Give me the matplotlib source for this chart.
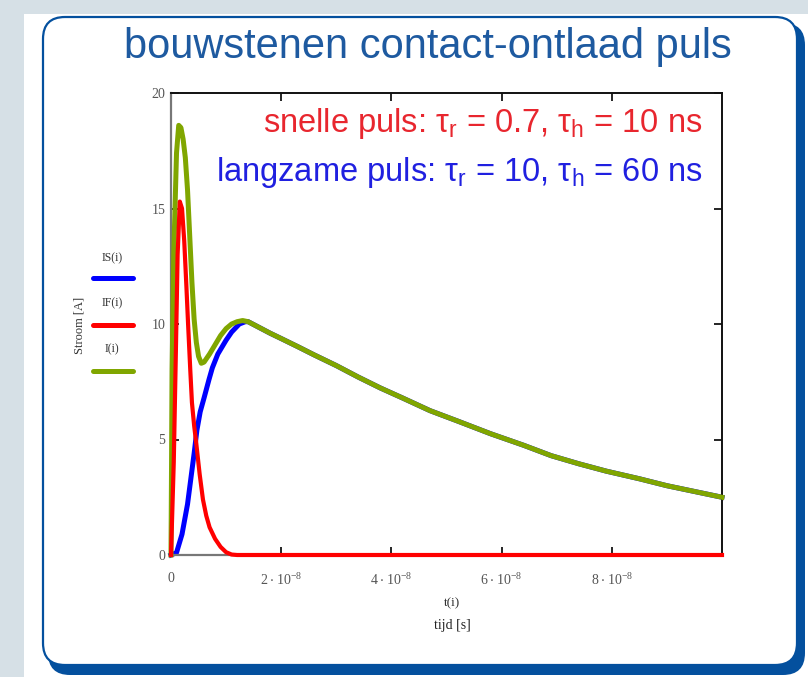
import matplotlib
matplotlib.use("Agg")
import matplotlib.pyplot as plt
from matplotlib.patches import FancyBboxPatch, Rectangle

# ── data (time in ns, current in A) ──────────────────────────────────────────
t_total = [0, 0.2, 0.5, 1.0, 1.4, 1.8, 2.2, 2.6, 3.0, 3.4, 3.8, 4.2, 4.6, 5.0,
           5.5, 6.0, 7.0, 8.0, 9.0, 10, 11, 12, 13, 14, 16, 18, 20, 23, 26,
           30, 34, 38, 42, 47, 52, 58, 64, 69, 74, 79, 85, 90, 95, 100]
i_total = [0, 8.0, 13.0, 17.4, 18.6, 18.5, 18.0, 17.2, 15.8, 13.8, 11.8, 10.2,
           9.2, 8.6, 8.3, 8.35, 8.7, 9.1, 9.5, 9.8, 10.0, 10.1, 10.15, 10.1,
           9.85, 9.6, 9.37, 9.02, 8.66, 8.2, 7.7, 7.23, 6.8, 6.25, 5.8, 5.25,
           4.75, 4.3, 3.95, 3.63, 3.3, 3.0, 2.75, 2.5]

t_slow = [0, 1, 2, 3, 3.6, 4.2, 4.7, 5.3, 6.0, 6.9, 7.5, 8.5, 10, 11, 12.4,
          13.5, 14, 16, 18, 20, 23, 26, 30, 34, 38, 42, 47, 52, 58, 64, 69,
          74, 79, 85, 90, 95, 100]
i_slow = [0, 0.1, 0.9, 2.2, 3.3, 4.4, 5.4, 6.2, 6.8, 7.6, 8.1, 8.7, 9.3, 9.65,
          10.0, 10.1, 10.1, 9.85, 9.6, 9.37, 9.02, 8.66, 8.2, 7.7, 7.23, 6.8,
          6.25, 5.8, 5.25, 4.75, 4.3, 3.95, 3.63, 3.3, 3.0, 2.75, 2.5]

t_fast = [0, 0.5, 0.9, 1.2, 1.6, 2.0, 2.4, 2.8, 3.1, 3.5, 3.8, 4.2, 4.6, 5.2,
          5.8, 6.4, 7.0, 8.0, 9.0, 10, 11, 12, 100]
i_fast = [0, 4.0, 9.0, 13.0, 15.3, 15.0, 13.6, 11.6, 10.0, 8.0, 6.6, 5.6, 4.8,
          3.5, 2.4, 1.7, 1.2, 0.7, 0.35, 0.12, 0.02, 0, 0]

x_ticks = [0, 2e-8, 4e-8, 6e-8, 8e-8]
x_ticklabels = ["0", r"$\mathregular{2\cdot10^{-8}}$", r"$\mathregular{4\cdot10^{-8}}$",
                r"$\mathregular{6\cdot10^{-8}}$", r"$\mathregular{8\cdot10^{-8}}$"]
y_ticks = [0, 5, 10, 15, 20]

TITLE = "bouwstenen contact-ontlaad puls"
FAST_TXT = r"snelle puls: τ$_\mathregular{r}$ = 0.7, τ$_\mathregular{h}$ = 10 ns"
SLOW_TXT = r"langzame puls: τ$_\mathregular{r}$ = 10, τ$_\mathregular{h}$ = 60 ns"

# ── colours ──────────────────────────────────────────────────────────────────
C_GREEN = "#80A600"
C_RED = "#FF0000"
C_BLUE = "#0000FF"
C_FRAME = "#04509E"
C_TITLE = "#1E5AA0"
C_BG = "#D6E0E6"

W, H = 808, 677
fig = plt.figure(figsize=(W / 100, H / 100), dpi=100)
fig.patch.set_facecolor("white")

# background axes in pixel coordinates
bg = fig.add_axes([0, 0, 1, 1])
bg.set_xlim(0, W)
bg.set_ylim(H, 0)
bg.axis("off")

bg.add_patch(Rectangle((0, 0), W, 14, color=C_BG, lw=0))
bg.add_patch(Rectangle((0, 0), 24, H, color=C_BG, lw=0))
bg.add_patch(FancyBboxPatch((48, 23), 757, 652,
                            boxstyle="round,pad=0,rounding_size=22",
                            fc=C_FRAME, ec=C_FRAME, lw=0))
bg.add_patch(FancyBboxPatch((43, 17), 754, 648,
                            boxstyle="round,pad=0,rounding_size=22",
                            fc="white", ec=C_FRAME, lw=1.6))

bg.text(428, 47, TITLE, ha="center", va="center", fontsize=30,
        family="Liberation Sans", color=C_TITLE)

# legend-like labels on the left (Mathcad style)
serif = "Liberation Serif"
for label, color, yl, yt in [("IS(i)", C_BLUE, 278, 258),
                             ("IF(i)", C_RED, 325, 303),
                             ("I(i)", C_GREEN, 371, 349)]:
    bg.text(112, yt, label, ha="center", va="center", fontsize=8.5,
            family=serif, color="#333333")
    bg.plot([93, 133], [yl, yl], color=color, lw=3.6, solid_capstyle="round")

bg.text(80, 325, "Stroom [A]", rotation=90, ha="center", va="center",
        fontsize=9, family=serif, color="#333333")
bg.text(452, 603, "t(i)", ha="center", va="center", fontsize=9.5,
        family=serif, color="#333333")
bg.text(452, 626, "tijd [s]", ha="center", va="center", fontsize=10,
        family=serif, color="#222222")

# ── main plot ────────────────────────────────────────────────────────────────
ax = fig.add_axes([171 / W, 1 - 555 / H, (722 - 171) / W, (555 - 93) / H])
ax.set_facecolor("none")

ts = [v * 1e-9 for v in t_slow]
tf = [v * 1e-9 for v in t_fast]
tt = [v * 1e-9 for v in t_total]
ax.plot(ts, i_slow, color=C_BLUE, lw=3.6, zorder=2, clip_on=False)
ax.plot(tt, i_total, color=C_GREEN, lw=3.6, zorder=3, clip_on=False)
ax.plot(tf, i_fast, color=C_RED, lw=3.0, zorder=4, clip_on=False)

ax.set_xlim(0, 1e-7)
ax.set_ylim(0, 20)
ax.set_xticks(x_ticks)
ax.set_xticklabels(x_ticklabels)
ax.set_yticks(y_ticks)
ax.set_yticklabels([str(v) for v in y_ticks])
ax.tick_params(direction="in", length=6, width=1.2, top=True, right=True,
               labelsize=10, labelcolor="#555555")
ax.tick_params(axis="x", pad=12)
ax.tick_params(axis="y", pad=4)
for lab in ax.get_xticklabels() + ax.get_yticklabels():
    lab.set_family(serif)

for side in ["top", "right"]:
    ax.spines[side].set_color("#111111")
    ax.spines[side].set_linewidth(1.4)
for side in ["left", "bottom"]:
    ax.spines[side].set_color("#777777")
    ax.spines[side].set_linewidth(1.6)

ax.text(0.965, 0.933, FAST_TXT, transform=ax.transAxes, ha="right", va="center",
        fontsize=23.5, family="Liberation Sans", color="#E8262E")
ax.text(0.965, 0.828, SLOW_TXT, transform=ax.transAxes, ha="right", va="center",
        fontsize=23.5, family="Liberation Sans", color="#2020E0")

fig.savefig("out.png", dpi=100)
